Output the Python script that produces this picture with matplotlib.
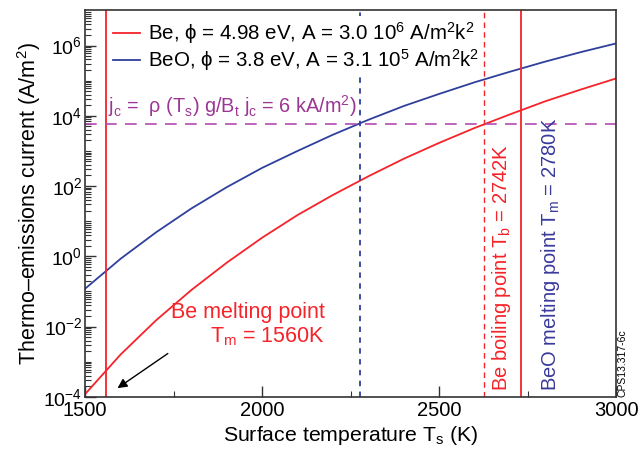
import numpy as np
import matplotlib
matplotlib.use("Agg")
import matplotlib.pyplot as plt
from matplotlib.ticker import FixedLocator, NullFormatter

plt.rcParams['font.family'] = ['Liberation Sans', 'DejaVu Sans']
plt.rcParams['mathtext.fontset'] = 'custom'
plt.rcParams['mathtext.rm'] = 'Liberation Sans'
plt.rcParams['mathtext.it'] = 'Liberation Sans:italic'
plt.rcParams['mathtext.default'] = 'regular'

# surface temperature (K)
T = [1500, 1600, 1700, 1800, 1900, 2000, 2100, 2200, 2300, 2400,
     2500, 2600, 2700, 2800, 2900, 3000]
# thermo-emission current (A/m^2)
j_be = [1.2e-4, 1.6e-3, 1.5e-2, 0.11, 0.66, 3.4, 15, 56, 190, 600,
        1.7e3, 4.5e3, 1.1e4, 2.6e4, 5.6e4, 1.16e5]
j_beo = [0.12, 0.85, 4.8, 23, 93, 330, 1.0e3, 2.9e3, 7.7e3, 1.9e4,
         4.2e4, 9.0e4, 1.8e5, 3.5e5, 6.5e5, 1.15e6]

T_melt_be = 1560
T_boil_be = 2730
T_jc_beo = 2275
T_jc_be = 2627
j_c = 6e3

red = '#f5232a'
blue = '#2f3f9c'
mag = '#b04ab0'

fig = plt.figure(figsize=(6.4, 4.51), dpi=100)
ax = fig.add_axes([0.133, 0.12, 0.83, 0.857])

ax.plot(T, j_be, color=red, lw=1.3,
        label='Be, \u03d5 = 4.98 eV, A = 3.0 10$^6$ A/m$^2$k$^2$')
ax.plot(T, j_beo, color=blue, lw=1.3,
        label='BeO, \u03d5 = 3.8 eV, A = 3.1 10$^5$ A/m$^2$k$^2$')

ax.axvline(T_melt_be, color=red, lw=1.3)
ax.axvline(T_boil_be, color=red, lw=1.3)
ax.axvline(T_jc_be, color=red, lw=1.0, ls=(0, (4, 3)))
ax.axvline(T_jc_beo, color=blue, lw=1.3, ls=(0, (3, 3)))
ax.axhline(j_c, color=mag, lw=1.2, ls=(0, (7, 5)))

ax.set_yscale('log')
ax.set_xlim(1500, 3000)
ax.set_ylim(1e-4, 1e7)

ax.set_yticks(10.0 ** np.arange(-4, 7, 2))
ax.set_yticklabels(['10$^{%d}$' % e for e in range(-4, 7, 2)])
minors = []
for e in range(-4, 7):
    if e % 2 == 1:
        minors.append(10.0 ** e)
    for s in range(2, 10):
        minors.append(s * 10.0 ** e)
ax.yaxis.set_minor_locator(FixedLocator(minors))
ax.yaxis.set_minor_formatter(NullFormatter())
ax.set_xticks([1500, 2000, 2500, 3000])
ax.xaxis.set_minor_locator(FixedLocator([1750, 2250, 2750]))

ax.tick_params(which='both', direction='in', top=False, right=False,
               color='#333333')
ax.tick_params(axis='x', labelsize=14.5, pad=3)
ax.tick_params(axis='y', labelsize=14, pad=2)
ax.tick_params(which='major', length=8, width=1)
ax.tick_params(which='minor', length=4, width=0.8)
for sp in ax.spines.values():
    sp.set_color('#333333')
    sp.set_linewidth(1.2)

ax.set_xlabel('Surface temperature T$_s$ (K)', fontsize=15.3, labelpad=3)
ax.set_ylabel('Thermo\u2013emissions current (A/m$^2$)', fontsize=15.5, labelpad=0)

leg = ax.legend(loc='upper left', bbox_to_anchor=(0.045, 0.985), fontsize=14.8,
                handlelength=1.3, handletextpad=0.4, borderpad=0.2,
                labelspacing=0.05, borderaxespad=0, fancybox=False)
leg.get_frame().set_edgecolor('none')
leg.get_frame().set_facecolor('white')
leg.get_frame().set_alpha(1)

ax.text(1565, 8.0e3, 'j$_c$ =  \u03c1 (T$_s$) g/B$_t$ j$_c$ = 6 kA/m$^2$)',
        color='#9c3594', fontsize=14.3, va='bottom', ha='left')

ax.text(2178, 1.1e-2, 'Be melting point\nT$_m$ = 1560K', color=red,
        fontsize=15.5, ha='right', va='center', multialignment='right',
        linespacing=1.15)
ax.annotate('', xy=(1585, 1.6e-4), xytext=(1740, 1.9e-3),
            arrowprops=dict(arrowstyle='-|>', color='black', lw=1,
                            mutation_scale=14))

ax.text(2675, 1.5e-4, 'Be boiling point T$_b$ = 2742K', color=red,
        fontsize=14.5, rotation=90, ha='center', va='bottom')
ax.text(2815, 1.5e-4, 'BeO melting point T$_m$ = 2780K', color='#3a3a9c',
        fontsize=14.5, rotation=90, ha='center', va='bottom')
ax.text(1.003, 0.0, 'CPS13.317-6c', transform=ax.transAxes, fontsize=7.5,
        rotation=90, ha='left', va='bottom')

fig.savefig('out.png', dpi=100)
